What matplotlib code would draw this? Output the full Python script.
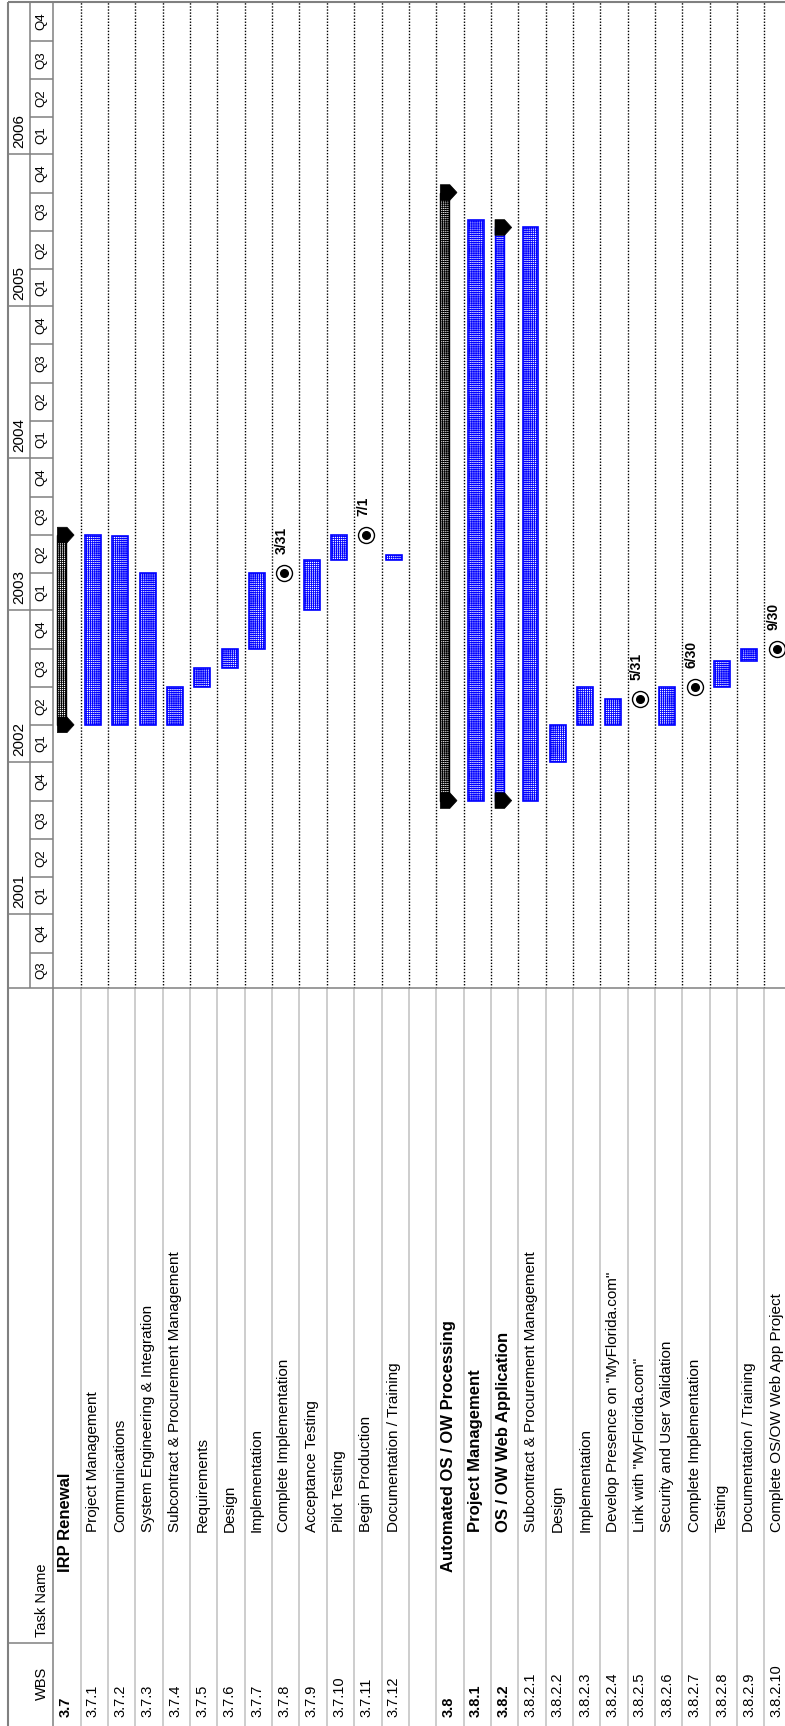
import matplotlib
matplotlib.use("Agg")
import matplotlib.pyplot as plt
import matplotlib.dates as mdates
from matplotlib.patches import Rectangle, Polygon

plt.rcParams['font.family'] = ['Liberation Sans', 'DejaVu Sans']
plt.rcParams['hatch.linewidth'] = 0.6

# ---------------- schedule data ----------------
wbs_codes = ["3.7", "3.7.1", "3.7.2", "3.7.3", "3.7.4", "3.7.5", "3.7.6", "3.7.7",
             "3.7.8", "3.7.9", "3.7.10", "3.7.11", "3.7.12", "",
             "3.8", "3.8.1", "3.8.2", "3.8.2.1", "3.8.2.2", "3.8.2.3", "3.8.2.4",
             "3.8.2.5", "3.8.2.6", "3.8.2.7", "3.8.2.8", "3.8.2.9", "3.8.2.10"]

task_names = ["IRP Renewal", "Project Management", "Communications",
              "System Engineering & Integration", "Subcontract & Procurement Management",
              "Requirements", "Design", "Implementation", "Complete Implementation",
              "Acceptance Testing", "Pilot Testing", "Begin Production",
              "Documentation / Training", "",
              "Automated OS / OW Processing", "Project Management", "OS / OW Web Application",
              "Subcontract & Procurement Management", "Design", "Implementation",
              'Develop Presence on "MyFlorida.com"', 'Link with "MyFlorida.com"',
              "Security and User Validation", "Complete Implementation", "Testing",
              "Documentation / Training", "Complete OS/OW Web App Project"]

outline_level = [2, 3, 3, 3, 3, 3, 3, 3, 3, 3, 3, 3, 3, 0,
                 2, 3, 3, 4, 4, 4, 4, 4, 4, 4, 4, 4, 4]

bold_rows = [True] + [False] * 12 + [False, True, True, True] + [False] * 10

bar_kind = ["summary", "task", "task", "task", "task", "task", "task", "task",
            "milestone", "task", "task", "milestone", "task", "",
            "summary", "task", "summary_blue", "task", "task", "task", "task",
            "milestone", "task", "milestone", "task", "task", "milestone"]

start_dates = ["2002-04-01", "2002-04-01", "2002-04-01", "2002-04-01", "2002-04-01",
               "2002-07-01", "2002-08-16", "2002-10-01", "2003-03-31", "2003-01-01",
               "2003-05-01", "2003-07-01", "2003-05-01", None,
               "2001-10-01", "2001-10-01", "2001-10-01", "2001-10-01", "2002-01-01",
               "2002-04-01", "2002-04-01", "2002-05-31", "2002-04-01", "2002-06-30",
               "2002-07-01", "2002-09-01", "2002-09-30"]

finish_dates = ["2003-06-30", "2003-06-30", "2003-06-27", "2003-03-31", "2002-06-30",
                "2002-08-15", "2002-09-30", "2003-03-31", "2003-03-31", "2003-04-30",
                "2003-06-30", "2003-07-01", "2003-05-14", None,
                "2005-09-30", "2005-07-27", "2005-07-08", "2005-07-08", "2002-03-31",
                "2002-06-30", "2002-05-31", "2002-05-31", "2002-06-30", "2002-06-30",
                "2002-08-31", "2002-09-30", "2002-09-30"]

timescale_start = "2000-07-07"
timescale_end = "2007-01-01"
years = [2000, 2001, 2002, 2003, 2004, 2005, 2006]
quarter_names = ["Q1", "Q2", "Q3", "Q4"]

# ---------------- page geometry (pixels) ----------------
W, H, DPI = 785, 1726, 100
FRAME_L = 8.0
HDR_SPLIT = 30.0
HDR_R = 53.3
ROW_H = 27.35
CHART_T = 2.3
CHART_B = 988.3
COL_SPLIT = 1643.0
n_rows = len(wbs_codes)
ROWS_R = HDR_R + n_rows * ROW_H

GRID = '#808080'
LIGHT = '#c0c0c0'
BLUE = '#0000ff'
FINE = '++++++++'

# text start positions (pixels) for each outline level in the name column
name_start = {2: 1572, 3: 1532, 4: 1532}
WBS_START = 1717

fig = plt.figure(figsize=(W / DPI, H / DPI), dpi=DPI)


def fig_rect(x0, y0, x1, y1):
    return [x0 / W, 1 - y1 / H, (x1 - x0) / W, (y1 - y0) / H]


t0 = mdates.datestr2num(timescale_start)
t1 = mdates.datestr2num(timescale_end)
px_per_day = (CHART_B - CHART_T) / (t1 - t0)

# ---------------- gantt area ----------------
ax = fig.add_axes(fig_rect(HDR_R, CHART_T, ROWS_R, CHART_B))
ax.set_xlim(0, n_rows)
ax.set_ylim(t0, t1)
ax.axis('off')
ax.vlines(range(1, n_rows + 1), t0, t1, colors='black', linewidth=1.0,
          linestyles=(0, (1, 1.2)))


def draw_task(row, s, f):
    ax.add_patch(Rectangle((row + 0.16, s), 0.58, f - s, facecolor='white',
                           edgecolor=BLUE, hatch=FINE, linewidth=1.2, zorder=3))


def draw_summary(row, s, f, body):
    ax.add_patch(Rectangle((row + 0.15, s), 0.33, f - s, facecolor='white',
                           edgecolor=body, hatch=FINE, linewidth=1.0, zorder=3))
    half = 7.8 / px_per_day
    for d in (s, f):
        ax.add_patch(Polygon([(row + 0.15, d - half), (row + 0.50, d - half),
                              (row + 0.76, d), (row + 0.50, d + half),
                              (row + 0.15, d + half)], closed=True,
                             facecolor='black', edgecolor='black', linewidth=0.5,
                             zorder=4))


def draw_milestone(row, d, label):
    x = row + 0.45
    ax.plot(x, d, marker='o', ms=11.5, mfc='white', mec='black', mew=1.0, zorder=4)
    ax.plot(x, d, marker='o', ms=5.5, color='black', zorder=5)
    ax.annotate(label, (x, d), xytext=(-3, 19), textcoords='offset pixels',
                rotation=90, ha='center', va='bottom', fontsize=10,
                fontweight='bold', zorder=5)


for i, kind in enumerate(bar_kind):
    if not kind:
        continue
    s = mdates.datestr2num(start_dates[i])
    f = mdates.datestr2num(finish_dates[i]) + 1
    if kind == "task":
        draw_task(i, s, f)
    elif kind == "summary":
        draw_summary(i, s, f, 'black')
    elif kind == "summary_blue":
        draw_summary(i, s, f, BLUE)
    elif kind == "milestone":
        mo, dd = finish_dates[i].split("-")[1:]
        draw_milestone(i, f, f"{int(mo)}/{int(dd)}")

# ---------------- timescale header ----------------
hax = fig.add_axes(fig_rect(FRAME_L, CHART_T, HDR_R, CHART_B))
hax.set_xlim(0, HDR_R - FRAME_L)
hax.set_ylim(t0, t1)
hax.axis('off')
split = HDR_SPLIT - FRAME_L
for yr in years:
    for q in range(4):
        qs = mdates.datestr2num(f"{yr}-{3 * q + 1:02d}-01")
        qe = mdates.datestr2num(f"{yr + 1}-01-01") if q == 3 else \
            mdates.datestr2num(f"{yr}-{3 * q + 4:02d}-01")
        if qe <= t0:
            continue
        if qs > t0:
            hax.hlines(qs, split, HDR_R - FRAME_L, colors=GRID, linewidth=1.1)
        mid = (max(qs, t0) + qe) / 2
        hax.text((split + HDR_R - FRAME_L) / 2, mid, quarter_names[q], rotation=90,
                 ha='center', va='center', fontsize=9.5)
    ys = mdates.datestr2num(f"{yr}-01-01")
    if ys > t0:
        hax.hlines(ys, 0, split, colors=GRID, linewidth=1.1)
        hax.annotate(str(yr), (split / 2, ys), xytext=(0, 6), textcoords='offset pixels',
                     rotation=90, ha='center', va='bottom', fontsize=11)

# ---------------- task table ----------------
tax = fig.add_axes(fig_rect(HDR_R, CHART_B, ROWS_R, H))
tax.set_xlim(0, n_rows)
tax.set_ylim(H, CHART_B)
tax.axis('off')
tax.vlines(range(1, n_rows + 1), CHART_B, H, colors=LIGHT, linewidth=1.1)
for i, (code, name) in enumerate(zip(wbs_codes, task_names)):
    if not code:
        continue
    weight = 'bold' if bold_rows[i] else 'normal'
    tax.text(i + 0.45, WBS_START, code, rotation=90, ha='center', va='bottom',
             fontsize=10.5, fontweight=weight)
    tax.text(i + 0.45, name_start[outline_level[i]], name, rotation=90, ha='center',
             va='bottom', fontsize=12 if bold_rows[i] else 11, fontweight=weight)

# ---------------- frame and header labels ----------------
oax = fig.add_axes([0, 0, 1, 1])
oax.set_xlim(0, W)
oax.set_ylim(H, 0)
oax.axis('off')
oax.vlines(FRAME_L, CHART_T, H, colors=GRID, linewidth=1.5)
oax.hlines(CHART_T, FRAME_L, W, colors=GRID, linewidth=1.5)
oax.vlines(HDR_R, CHART_T, H, colors=GRID, linewidth=1.1)
oax.vlines(HDR_SPLIT, CHART_T, CHART_B, colors=GRID, linewidth=1.1)
oax.hlines(CHART_B, FRAME_L, W, colors=GRID, linewidth=1.1)
oax.hlines(COL_SPLIT, FRAME_L, HDR_R, colors=GRID, linewidth=1.1)
hdr_x = (HDR_SPLIT + HDR_R) / 2
oax.text(hdr_x, 1700, "WBS", rotation=90, ha='center', va='bottom', fontsize=10.5)
oax.text(hdr_x, COL_SPLIT - 6, "Task Name", rotation=90, ha='center', va='bottom',
         fontsize=10.5)

fig.savefig("out.png", dpi=DPI)
